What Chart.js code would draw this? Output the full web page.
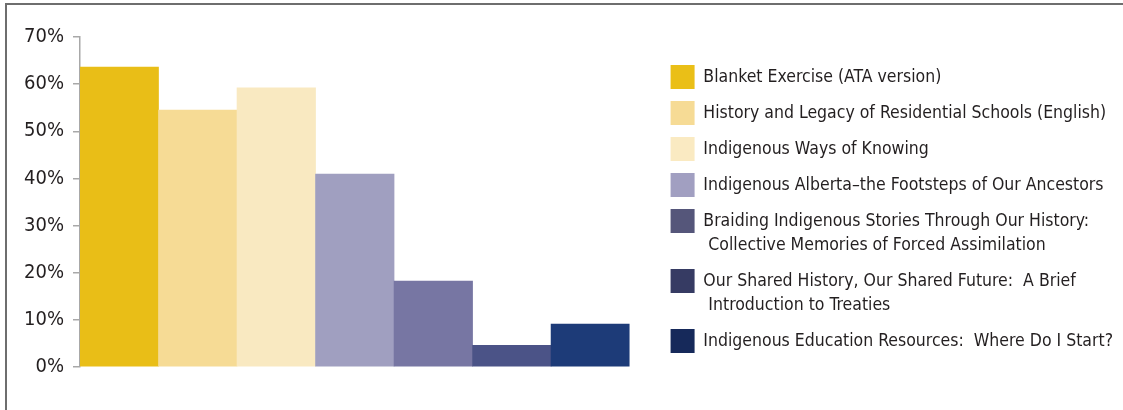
<!DOCTYPE html>
<html>
<head>
<meta charset="utf-8">
<script src="https://cdn.jsdelivr.net/npm/chart.js@4"></script>
<style>
  html,body{margin:0;padding:0;background:#fff;}
  #wrap{position:relative;width:1123px;height:410px;overflow:hidden;}
  #frame{position:absolute;left:5px;top:3px;right:-10px;bottom:-10px;border-top:2px solid #6e6e6e;border-left:2px solid #6e6e6e;pointer-events:none;}
</style>
</head>
<body>
<div id="wrap">
  <canvas id="bars" width="1123" height="410"></canvas>
  <div id="frame"></div>
</div>
<script>
const categories = [
    ['Blanket Exercise (ATA version)'],
    ['History and Legacy of Residential Schools (English)'],
    ['Indigenous Ways of Knowing'],
    ['Indigenous Alberta\u2013the Footsteps of Our Ancestors'],
    ['Braiding Indigenous Stories Through Our History:', ' Collective Memories of Forced Assimilation'],
    ['Our Shared History, Our Shared Future:  A Brief', ' Introduction to Treaties'],
    ['Indigenous Education Resources:  Where Do I Start?']
]
const percentages = [63.6, 54.5, 59.2, 40.9, 18.2, 4.6, 9.1]
const yTicks = [0, 10, 20, 30, 40, 50, 60, 70]

const barColors = ['#E9BE17','#F6DB95','#F9E9C1','#A09FC0','#7776A3','#4B5387','#1D3B78']
const legendColors = ['#EABF17','#F6DB95','#FAEAC2','#A19FC1','#55567A','#363B63','#16295A']

const fontName = '"Liberation Sans Narrow", "DejaVu Sans Condensed", "Liberation Sans", sans-serif'
const textColor = '#231f20'

const ctx = document.getElementById('bars')

new Chart(ctx, {
    type: 'bar',
    data: {
        labels: categories,
        datasets: [{
            data: percentages,
            backgroundColor: barColors,
            borderWidth: 0,
            categoryPercentage: 1.0,
            barPercentage: 1.0
        }]
    },
    options: {
        responsive: false,
        animation: false,
        layout: {padding: {top: 37, bottom: 43, left: 0, right: 0}},
        scales: {
            x: {display: false},
            y: {
                min: 0,
                max: 70,
                afterBuildTicks: s => { s.ticks = yTicks.map(v => ({value: v})) },
                afterFit: s => { s.width = 80 },
                grid: {drawOnChartArea: false, tickLength: 7, color: '#a8a8a8', lineWidth: 1.5},
                border: {color: '#a8a8a8', width: 1.5},
                ticks: {
                    padding: 9,
                    color: textColor,
                    font: {family: fontName, size: 20},
                    callback: v => v + '%'
                }
            },
            // empty box that keeps the legend away from the bars
            gap: {
                position: 'right',
                display: true,
                grid: {display: false},
                border: {display: false},
                ticks: {display: false},
                afterFit: s => { s.width = 29 }
            }
        },
        plugins: {
            tooltip: {enabled: false},
            legend: {
                position: 'right',
                align: 'start',
                maxWidth: 480,
                title: {display: true, text: ' ', color: 'rgba(0,0,0,0)', font: {size: 1, lineHeight: 1}, padding: 7.5},
                labels: {
                    boxWidth: 24,
                    boxHeight: 24,
                    padding: 12,
                    color: textColor,
                    font: {family: fontName, size: 17.5, lineHeight: '24px'},
                    generateLabels: chart => chart.data.labels.map((label, i) => ({
                        text: label.length > 1 ? label : label[0],
                        fillStyle: legendColors[i],
                        strokeStyle: legendColors[i],
                        fontColor: textColor,
                        lineWidth: 0,
                        hidden: false,
                        index: i
                    }))
                }
            }
        }
    }
})
</script>
</body>
</html>
